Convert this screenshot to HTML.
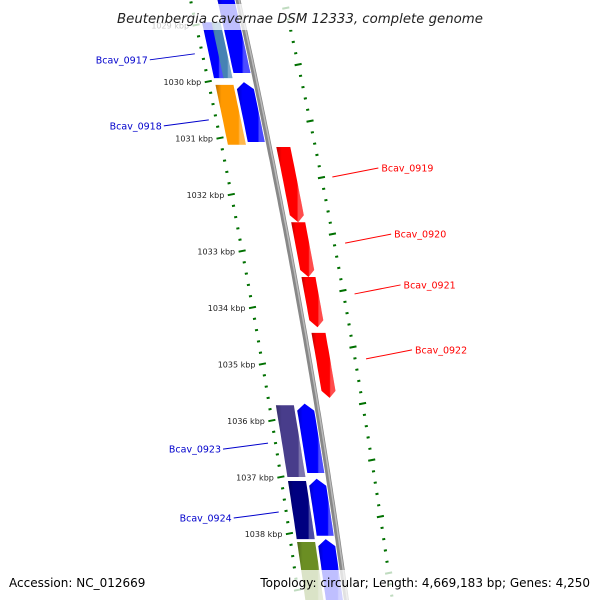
<!DOCTYPE html>
<html><head><meta charset="utf-8"><style>
html,body{margin:0;padding:0;background:#fff;overflow:hidden;width:600px;height:600px}
svg{display:block;font-family:"DejaVu Sans","Liberation Sans",sans-serif;overflow:hidden}
</style></head><body>
<svg id="map" width="600" height="600" viewBox="0 0 600 600">
<defs>
<linearGradient id="shade" x1="0" x2="1" y1="0" y2="0">
<stop offset="0" stop-color="#000" stop-opacity="0.25"/>
<stop offset="0.2" stop-color="#000" stop-opacity="0"/>
<stop offset="0.75" stop-color="#fff" stop-opacity="0"/>
<stop offset="0.8" stop-color="#fff" stop-opacity="0.3"/>
<stop offset="1" stop-color="#fff" stop-opacity="0.3"/>
</linearGradient>
<clipPath id="frame"><rect x="0" y="0" width="600" height="600"/></clipPath>
</defs>
<g clip-path="url(#frame)">
<g id="rulers"></g>
<g id="backbone"></g>
<g id="genes"></g>
<g id="labels"></g>
</g>
<rect x="112" y="4" width="376" height="26" fill="#fff" opacity="0.75"/>
<text x="300" y="23" text-anchor="middle" font-size="13.3" font-style="italic" fill="#222">Beutenbergia cavernae DSM 12333, complete genome</text>
<rect x="0" y="570" width="600" height="30" fill="#fff" opacity="0.75"/>
<text x="9" y="587" font-size="12" fill="#000">Accession: NC_012669</text>
<text x="590" y="587" font-size="12" fill="#000" text-anchor="end">Topology: circular; Length: 4,669,183 bp; Genes: 4,250</text>
</svg>
<script>
const geneNames=["blue-top-fwd","blue-top-rev","steel-top-rev","orange-rev","blue-fwd-1","red-1","red-2","red-3","red-4","purple-rev","blue-fwd-2","navy-rev","blue-fwd-3","olive-rev","blue-fwd-4"];
const geneStart=[1028.3,1028.95,1028.95,1030.06,1030.01,1031.16,1032.49,1033.46,1034.45,1035.73,1035.70,1037.07,1037.03,1038.15,1038.10];
const geneEnd=[1029.85,1029.94,1029.94,1031.12,1031.07,1032.49,1033.46,1034.35,1035.60,1037.00,1036.93,1038.10,1038.04,1039.3,1039.3];
const geneLane=["fwd","revL","revR","rev","fwd","red","red","red","red","rev","fwd","rev","fwd","rev","fwd"];
const geneColor=["#0000ff","#0000ff","#4682b4","#ff9900","#0000ff","#ff0000","#ff0000","#ff0000","#ff0000","#483d8b","#0000ff","#000080","#0000ff","#6b8e23","#0000ff"];
const geneArrow=["up","none","none","none","up","down","down","down","down","none","up","none","up","none","up"];
const labelText=["Bcav_0917","Bcav_0918","Bcav_0919","Bcav_0920","Bcav_0921","Bcav_0922","Bcav_0923","Bcav_0924"];
const labelKbp=[1029.51,1030.68,1031.69,1032.86,1033.76,1034.91,1036.40,1037.62];
const labelSide=["left","left","right","right","right","right","left","left"];
const labelColor=["#0000cc","#0000cc","#ff0000","#ff0000","#ff0000","#ff0000","#0000cc","#0000cc"];
const rulerMajor=[1028,1029,1030,1031,1032,1033,1034,1035,1036,1037,1038,1039];

const NS="http://www.w3.org/2000/svg";
function yOf(k){return 25+(k-1029)*56.5;}
function cx(y){return 238+0.2237*y-7.18e-5*y*y;}
const lanes={fwd:[-12,17],rev:[-32,18],revL:[-36,10],revR:[-27,9],red:[14,14]};
function mk(tag,attrs,parent){const e=document.createElementNS(NS,tag);for(const k in attrs)e.setAttribute(k,attrs[k]);parent.appendChild(e);return e;}

const bb=document.getElementById('backbone');
let pts=[];for(let y=-5;y<=605;y+=5)pts.push([cx(y),y]);
const bbPath="M"+pts.map(p=>p[0].toFixed(1)+","+p[1]).join(" L");
const b1=mk('path',{d:bbPath,stroke:'#888',"stroke-width":5,fill:'none'},bb);


const b2=mk('path',{d:bbPath,stroke:'#bbb',"stroke-width":1.5,fill:'none',transform:'translate(1,0)'},bb);



const rg=document.getElementById('rulers');
function tick(y,off,len,th){const x=cx(y)+off;const s=0.2;return mk('line',{x1:x-len/2,y1:y+len/2*s,x2:x+len/2,y2:y-len/2*s,stroke:'#007000',"stroke-width":th},rg);}
for(let i=0;i<rulerMajor.length;i++){
  for(let j=0;j<5;j++){
    const k=rulerMajor[i]+j*0.2;
    const y=yOf(k);
    if(y>=-5&&y<=598){
      const t=tick(y,-47.5,j===0?7:3,2);
      
      
    }
    const y2=yOf(k+0.7);
    if(y2>=-5&&y2<=598){
      const t2=tick(y2,46,j===0?7:3,2);
      
      
    }
    if(j===0&&y>10&&y<560){
      const tx=mk('text',{x:cx(y)-47.5-7,y:y+3.5,"font-size":8,fill:'#222',"text-anchor":'end'},rg);
      tx.textContent=rulerMajor[i]+" kbp";
      
      
    }
  }
}

const gg=document.getElementById('genes');
for(let i=0;i<geneStart.length;i++){
  const [off,w]=lanes[geneLane[i]];
  const y1=yOf(geneStart[i]),y2=yOf(geneEnd[i]);
  const ah=7;
  let L=[],R=[];
  const ya=geneArrow[i]==='up'?y1+ah:y1, yb=geneArrow[i]==='down'?y2-ah:y2;
  for(let t=0;t<=10;t++){const y=ya+(yb-ya)*t/10;L.push([cx(y)+off-w/2,y]);R.push([cx(y)+off+w/2,y]);}
  let poly=[];
  if(geneArrow[i]==='up')poly.push([cx(y1)+off,y1]);
  poly=poly.concat(R);
  if(geneArrow[i]==='down')poly.push([cx(y2)+off,y2]);
  poly=poly.concat(L.reverse());
  const d="M"+poly.map(p=>p[0].toFixed(1)+","+p[1].toFixed(1)).join(" L")+"Z";
  const g=mk('path',{d:d,fill:geneColor[i]},gg);
  
  
  const s=mk('path',{d:d,fill:'url(#shade)'},gg);
  
  
}

const lg=document.getElementById('labels');
for(let i=0;i<labelText.length;i++){
  const y=yOf(labelKbp[i]);
  const c=cx(y);
  let x1,x2,yEnd,tx,anchor;
  if(labelSide[i]==='left'){x1=c-55;x2=x1-45;yEnd=y+6;tx=x2-2;anchor='end';}
  else{x1=c+57;x2=x1+46;yEnd=y-9;tx=x2+3;anchor='start';}
  const ln=mk('line',{x1:x1,y1:y,x2:x2,y2:yEnd,stroke:labelColor[i],"stroke-width":1},lg);
  
  
  const t=mk('text',{x:tx,y:yEnd+3.5,"font-size":9.5,fill:labelColor[i],"text-anchor":anchor},lg);
  t.textContent=labelText[i];
  
  
}
</script>
</body></html>
